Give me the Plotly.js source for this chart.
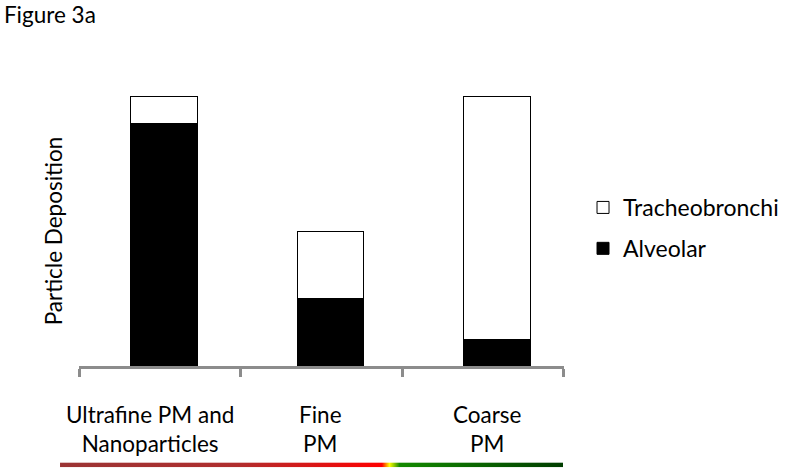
<!DOCTYPE html>
<html>
<head>
<meta charset="utf-8">
<script src="https://cdn.plot.ly/plotly-3.0.1.min.js"></script>
<style>
  html, body { margin: 0; padding: 0; background: #fff; }
  #myDiv { width: 785px; height: 473px; }
</style>
</head>
<body>
<div id="myDiv"></div>
<script>
  var categories = ['ultrafine', 'fine', 'coarse'];
  var tickLabels = ['Ultrafine PM and<br>Nanoparticles', 'Fine<br>PM', 'Coarse<br>PM'];
  var alveolar = [90, 25, 10];
  var tracheobronchi = [10, 25, 90];

  var font = 'Lato, "Open Sans", sans-serif';
  var labelShift = [-10, -1, 4];

  var trace1 = {
    x: categories,
    y: alveolar,
    name: 'Alveolar',
    legendgroup: 'alv',
    legendrank: 2,
    type: 'bar',
    marker: {
      color: '#000000',
      line: { color: '#000000', width: 1 }
    }
  };

  var trace2 = {
    x: categories,
    y: tracheobronchi,
    name: 'Tracheobronchi',
    legendgroup: 'tra',
    legendrank: 1,
    type: 'bar',
    marker: {
      color: '#ffffff',
      line: { color: '#000000', width: 1 }
    }
  };

  // invisible trace so the drawn axis knows the categories
  var axisTrace = {
    x: categories,
    y: alveolar,
    xaxis: 'x2',
    type: 'scatter',
    mode: 'none',
    showlegend: false,
    hoverinfo: 'skip'
  };

  var data = [trace1, trace2, axisTrace];

  // colour strip under the labels
  var strip = '<svg xmlns="http://www.w3.org/2000/svg" width="500" height="10" preserveAspectRatio="none">' +
    '<defs><linearGradient id="g" x1="0" x2="1" y1="0" y2="0">' +
    '<stop offset="0" stop-color="#9b3434"/>' +
    '<stop offset="0.35" stop-color="#b02e2e"/>' +
    '<stop offset="0.64" stop-color="#ff0000"/>' +
    '<stop offset="0.655" stop-color="#ffff00"/>' +
    '<stop offset="0.675" stop-color="#138a00"/>' +
    '<stop offset="1" stop-color="#003d00"/>' +
    '</linearGradient></defs>' +
    '<rect width="500" height="10" fill="url(#g)"/></svg>';

  var annotations = categories.map(function (c, i) {
    return {
      x: c, xref: 'x2',
      y: -0.233, yref: 'paper',
      yanchor: 'middle',
      xshift: labelShift[i],
      text: tickLabels[i],
      showarrow: false,
      font: { family: font, size: 22.5, color: '#000000' }
    };
  });

  var layout = {
    width: 785,
    height: 473,
    margin: { l: 79, r: 205, t: 96, b: 107, autoexpand: false },
    paper_bgcolor: '#ffffff',
    plot_bgcolor: 'rgba(0,0,0,0)',
    barmode: 'stack',
    bargap: 0.6,
    font: { family: font, size: 22.5, color: '#000000' },
    title: {
      text: 'Figure 3a',
      x: 0.005, xanchor: 'left', xref: 'container',
      y: 0.985, yanchor: 'top', yref: 'container',
      font: { family: font, size: 22.5 }
    },
    xaxis: {
      type: 'category',
      domain: [0.0035, 1],
      range: [-0.5, 2.5],
      showticklabels: false,
      ticks: '',
      showline: false,
      showgrid: false,
      zeroline: false,
      automargin: false
    },
    xaxis2: {
      type: 'category',
      anchor: 'y',
      side: 'bottom',
      domain: [0, 0.968],
      range: [-0.5005, 2.5005],
      tickson: 'boundaries',
      ticks: 'outside',
      ticklen: 8,
      tickwidth: 3,
      tickcolor: '#8c8c8c',
      showline: true,
      linecolor: '#8c8c8c',
      linewidth: 3,
      showticklabels: false,
      showgrid: false,
      zeroline: false,
      automargin: false
    },
    yaxis: {
      range: [0, 100],
      showticklabels: false,
      showgrid: false,
      zeroline: false,
      showline: false,
      ticks: '',
      automargin: false,
      title: { text: 'Particle Deposition', standoff: 10, font: { family: font, size: 22.5 } }
    },
    legend: {
      xref: 'container', yref: 'container',
      x: 0.7427, xanchor: 'left',
      y: 0.518, yanchor: 'middle',
      traceorder: 'grouped',
      tracegroupgap: 8,
      font: { family: font, size: 23 },
      bgcolor: 'rgba(0,0,0,0)'
    },
    annotations: annotations,
    images: [{
      source: 'data:image/svg+xml;charset=utf-8,' + encodeURIComponent(strip),
      xref: 'paper', yref: 'paper',
      x: -0.0379, y: -0.357,
      sizex: 1.004, sizey: 0.018,
      xanchor: 'left', yanchor: 'top',
      sizing: 'stretch',
      layer: 'above'
    }]
  };

  Plotly.newPlot('myDiv', data, layout, { displayModeBar: false, staticPlot: true });
</script>
</body>
</html>
